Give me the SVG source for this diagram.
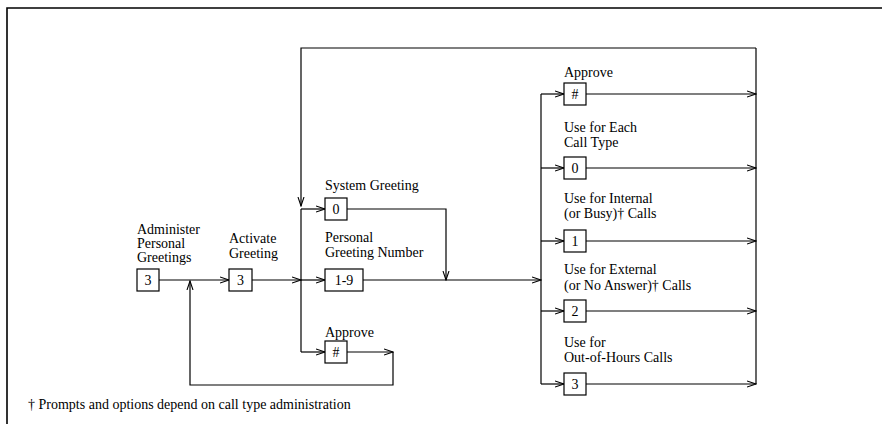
<svg xmlns="http://www.w3.org/2000/svg" width="882" height="424" viewBox="0 0 882 424">
<style>
text{font-family:"Liberation Serif","Times New Roman",serif;font-size:14px;fill:#000}
.c{text-anchor:middle}
rect{fill:#fff;stroke:#000;stroke-width:1.2}
.ln{fill:none;stroke:#000;stroke-width:1.2}
.a{marker-end:url(#ah)}
</style>
<defs>
<marker id="ah" markerWidth="10" markerHeight="8" refX="9" refY="4" orient="auto" markerUnits="userSpaceOnUse">
<path d="M0,1 L9,4 L0,7" fill="none" stroke="#000" stroke-width="1.1"/>
</marker>
</defs>
<path d="M7,424 V8 H882" fill="none" stroke="#000" stroke-width="1.6"/>
<g id="connectors">
<path class="ln a" d="M756,48 H301 V206"/>
<path class="ln" d="M301,209 V352"/>
<path class="ln a" d="M159,280 H229"/>
<path class="ln a" d="M252,280 H301"/>
<path class="ln a" d="M301,280 H325"/>
<path class="ln a" d="M301,209 H325"/>
<path class="ln a" d="M301,352 H325"/>
<path class="ln a" d="M347,352 H393"/>
<path class="ln a" d="M393,352 V385 H190 V281"/>
<path class="ln a" d="M347,209 H446 V280"/>
<path class="ln a" d="M363,280 H541"/>
<path class="ln" d="M541,94 V384"/>
<path class="ln" d="M756,48 V384"/>
<path class="ln a" d="M541,94 H564"/>
<path class="ln a" d="M541,168 H564"/>
<path class="ln a" d="M541,241 H564"/>
<path class="ln a" d="M541,311 H564"/>
<path class="ln a" d="M541,384 H564"/>
<path class="ln a" d="M586,94 H756"/>
<path class="ln a" d="M586,168 H756"/>
<path class="ln a" d="M586,241 H756"/>
<path class="ln a" d="M586,311 H756"/>
<path class="ln a" d="M586,384 H756"/>
</g>
<g id="administer">
<text x="137" y="234">Administer</text>
<text x="137" y="248">Personal</text>
<text x="137" y="262">Greetings</text>
<rect x="137" y="269" width="22" height="22"/>
<text class="c" x="148" y="285">3</text>
</g>
<g id="activate">
<text x="229" y="242.5">Activate</text>
<text x="229" y="257.5">Greeting</text>
<rect x="229" y="269" width="23" height="22"/>
<text class="c" x="240.5" y="285">3</text>
</g>
<g id="system-greeting">
<text x="325" y="190">System Greeting</text>
<rect x="325" y="198" width="22" height="22"/>
<text class="c" x="336" y="214">0</text>
</g>
<g id="personal-greeting">
<text x="325" y="241.5">Personal</text>
<text x="325" y="257">Greeting Number</text>
<rect x="325" y="269" width="38" height="22"/>
<text class="c" x="344" y="285">1-9</text>
</g>
<g id="approve-left">
<text x="325" y="336.5">Approve</text>
<rect x="325" y="341" width="22" height="22"/>
<text class="c" x="336" y="357">#</text>
</g>
<g id="approve-right">
<text x="564" y="77">Approve</text>
<rect x="564" y="83" width="22" height="22"/>
<text class="c" x="575" y="99">#</text>
</g>
<g id="each-call-type">
<text x="564" y="131.5">Use for Each</text>
<text x="564" y="146.5">Call Type</text>
<rect x="564" y="157" width="22" height="22"/>
<text class="c" x="575" y="173">0</text>
</g>
<g id="internal">
<text x="564" y="202.5">Use for Internal</text>
<text x="564" y="217.5">(or Busy)† Calls</text>
<rect x="564" y="230" width="22" height="22"/>
<text class="c" x="575" y="246">1</text>
</g>
<g id="external">
<text x="564" y="274">Use for External</text>
<text x="564" y="289.5">(or No Answer)† Calls</text>
<rect x="564" y="300" width="22" height="22"/>
<text class="c" x="575" y="316">2</text>
</g>
<g id="out-of-hours">
<text x="564" y="346.5">Use for</text>
<text x="564" y="362">Out-of-Hours Calls</text>
<rect x="564" y="373" width="22" height="22"/>
<text class="c" x="575" y="389">3</text>
</g>
<text x="28" y="409">† Prompts and options depend on call type administration</text>
</svg>
